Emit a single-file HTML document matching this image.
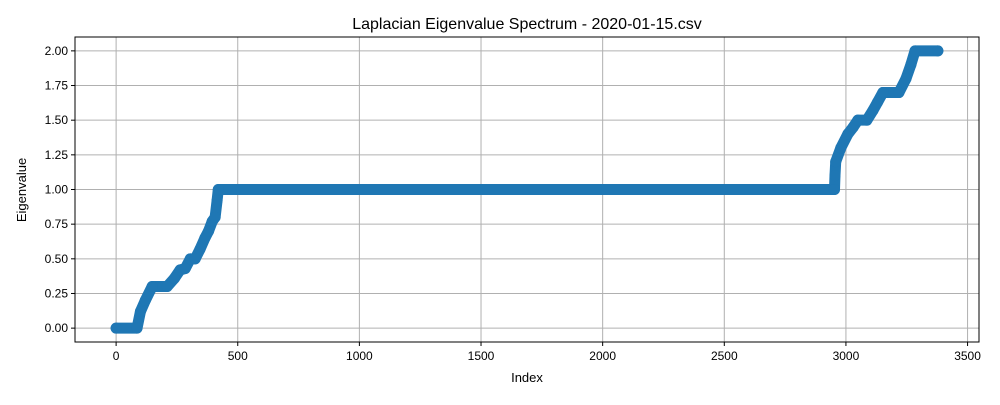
<!DOCTYPE html>
<html><head><meta charset="utf-8"><style>
body{margin:0;background:#fff;}
svg text{font-family:"Liberation Sans","DejaVu Sans",sans-serif;fill:#000;}
</style></head><body>
<svg id="chart" width="1000" height="400" xmlns="http://www.w3.org/2000/svg">
<rect width="1000" height="400" fill="#fff"/>
<g id="grid"></g>
<g id="series"></g>
<rect x="75" y="37" width="904" height="305" fill="none" stroke="#000" stroke-width="1"/>
<g id="ticks"></g>
<text x="527" y="29" font-size="16" text-anchor="middle">Laplacian Eigenvalue Spectrum - 2020-01-15.csv</text>
<text x="527" y="382" font-size="13" text-anchor="middle">Index</text>
<text x="0" y="0" font-size="13" text-anchor="middle" transform="translate(26,190) rotate(-90)">Eigenvalue</text>
</svg>
<script>
const indices = [0,86,100,120,148,210,240,263,284,305,325,345,365,380,395,407,415,420,2950,2953,2955,2958,2979,3008,3030,3049,3086,3111,3130,3152,3218,3247,3267,3284,3378];
const eigenvalues = [0,0,0.12,0.2,0.3,0.3,0.36,0.42,0.43,0.5,0.5,0.57,0.65,0.7,0.77,0.8,0.92,1.0,1.0,1.0,1.1,1.2,1.3,1.4,1.45,1.5,1.5,1.57,1.63,1.7,1.7,1.8,1.9,2.0,2.0];
const xTicks = [0,500,1000,1500,2000,2500,3000,3500];
const yTicks = [0,0.25,0.5,0.75,1.0,1.25,1.5,1.75,2.0];
const X0=75,X1=979,Y0=37,Y1=342;
const xMin=-169,xMax=3547,yMin=-0.1,yMax=2.1;
const sx=v=>X0+(v-xMin)/(xMax-xMin)*(X1-X0);
const sy=v=>Y1-(v-yMin)/(yMax-yMin)*(Y1-Y0);
const NS="http://www.w3.org/2000/svg";
const grid=document.getElementById('grid'),ticks=document.getElementById('ticks'),series=document.getElementById('series');
function mk(t,a){const e=document.createElementNS(NS,t);for(const k in a)e.setAttribute(k,a[k]);return e;}
xTicks.forEach(v=>{const x=sx(v);
 const g=mk('line',{x1:x,x2:x,y1:Y0,y2:Y1,stroke:'#b0b0b0','stroke-width':1});
 
 grid.appendChild(g);
 const t=mk('line',{x1:x,x2:x,y1:Y1,y2:Y1+4,stroke:'#000'});
 
 ticks.appendChild(t);
 const l=mk('text',{x:x,y:Y1+18,'font-size':12,'text-anchor':'middle'});l.textContent=v;
 
 ticks.appendChild(l);});
yTicks.forEach(v=>{const y=sy(v);
 const g=mk('line',{x1:X0,x2:X1,y1:y,y2:y,stroke:'#b0b0b0','stroke-width':1});
 
 grid.appendChild(g);
 const t=mk('line',{x1:X0-4,x2:X0,y1:y,y2:y,stroke:'#000'});
 
 ticks.appendChild(t);
 const l=mk('text',{x:X0-7,y:y+4,'font-size':12,'text-anchor':'end'});l.textContent=v.toFixed(2);
 
 ticks.appendChild(l);});
const pts=indices.map((v,i)=>sx(v)+','+sy(eigenvalues[i])).join(' ');
const pl=mk('polyline',{points:pts,fill:'none',stroke:'#1f77b4','stroke-width':11,'stroke-linecap':'round','stroke-linejoin':'round'});


series.appendChild(pl);
indices.forEach((v,i)=>{const c=mk('circle',{cx:sx(v),cy:sy(eigenvalues[i]),r:5.5,fill:'#1f77b4'});
 
 series.appendChild(c);});
</script>
</body></html>
